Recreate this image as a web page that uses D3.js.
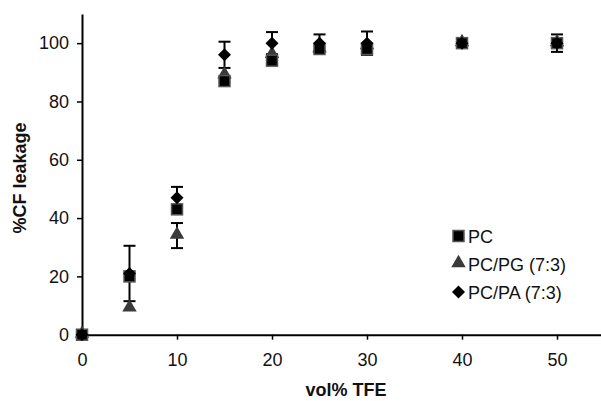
<!DOCTYPE html>
<html>
<head>
<meta charset="utf-8">
<script src="https://cdn.jsdelivr.net/npm/d3@7"></script>
<style>
    body { margin: 0; background: #fff; }
    svg { display: block; font-family: "Liberation Sans", Arial, sans-serif; }
</style>
</head>
<body>
<div id="chart"></div>
<script>
// Data
const tfe = [0, 5, 10, 15, 20, 25, 30, 40, 50];
const pc = [0, 20, 43, 87, 94, 98, 98, 100, 100];
const pcpg = [0, 9, 34, 89, 96, 98, 99, 100, 100];
const pcpa = [0, 21, 47, 96, 100, 100, 100, 100, 100];
const pcpaErr = [0, 9.5, 3.7, 4.5, 3.8, 3, 4, 0, 3];
const pcpgErr = [0, 0, 4.3, 0, 0, 0, 0, 0, 0];
const xTicks = [0, 10, 20, 30, 40, 50];
const yTicks = [0, 20, 40, 60, 80, 100];
const seriesNames = ['PC', 'PC/PG (7:3)', 'PC/PA (7:3)'];

const width = 601, height = 401;
const margin = { top: 14, right: -3.5, bottom: 66.3, left: 82 };

const svg = d3.select('#chart')
    .append('svg')
    .attr('width', width)
    .attr('height', height);

const x = d3.scaleLinear()
    .domain([0, 55])
    .range([margin.left, width - margin.right]);

const y = d3.scaleLinear()
    .domain([0, 110])
    .range([height - margin.bottom, margin.top]);

// Axes
const xAxis = svg.append('g')
    .attr('transform', `translate(0,${y(0)})`)
    .call(d3.axisBottom(x).tickValues(xTicks).tickSize(5).tickPadding(14).tickSizeOuter(0));

const yAxis = svg.append('g')
    .attr('transform', `translate(${x(0)},0)`)
    .call(d3.axisLeft(y).tickValues(yTicks).tickSize(5).tickPadding(8).tickSizeOuter(0));

[xAxis, yAxis].forEach(a => {
    a.select('.domain').attr('stroke', '#000').attr('stroke-width', 2);
    a.selectAll('.tick line').attr('stroke', '#000').attr('stroke-width', 1.5);
    a.selectAll('.tick text').attr('fill', '#111').style('font-size', '18px');
});

// Axis titles
svg.append('text')
    .attr('x', 346)
    .attr('y', 396)
    .attr('text-anchor', 'middle')
    .style('font-size', '18px')
    .style('font-weight', 'bold')
    .attr('fill', '#111')
    .text('vol% TFE');

svg.append('text')
    .attr('transform', 'translate(26,178) rotate(-90)')
    .attr('text-anchor', 'middle')
    .style('font-size', '18px')
    .style('font-weight', 'bold')
    .attr('fill', '#111')
    .text('%CF leakage');

// Error bars
function errorBars(vals, errs) {
    const pts = tfe.map((t, i) => ({ t, v: vals[i], e: errs[i] })).filter(d => d.e > 0);
    const g = svg.append('g').attr('stroke', '#000').attr('stroke-width', 2);
    g.selectAll('.stem').data(pts).enter().append('line')
        .attr('x1', d => x(d.t)).attr('x2', d => x(d.t))
        .attr('y1', d => y(d.v - d.e)).attr('y2', d => y(d.v + d.e));
    g.selectAll('.capTop').data(pts).enter().append('line')
        .attr('x1', d => x(d.t) - 6).attr('x2', d => x(d.t) + 6)
        .attr('y1', d => y(d.v + d.e)).attr('y2', d => y(d.v + d.e));
    g.selectAll('.capBot').data(pts).enter().append('line')
        .attr('x1', d => x(d.t) - 6).attr('x2', d => x(d.t) + 6)
        .attr('y1', d => y(d.v - d.e)).attr('y2', d => y(d.v - d.e));
}

errorBars(pcpg, pcpgErr);
errorBars(pcpa, pcpaErr);

// Markers
const triangle = d3.symbol().type(d3.symbolTriangle).size(90);
const diamond = 'M0,-6.5L6.5,0L0,6.5L-6.5,0Z';

svg.append('g').selectAll('path')
    .data(tfe.map((t, i) => ({ t, v: pcpg[i] })))
    .enter().append('path')
    .attr('d', triangle)
    .attr('transform', d => `translate(${x(d.t)},${y(d.v) - 1})`)
    .attr('fill', '#3a3a3a');

svg.append('g').selectAll('rect')
    .data(tfe.map((t, i) => ({ t, v: pc[i] })))
    .enter().append('rect')
    .attr('x', d => x(d.t) - 5.5)
    .attr('y', d => y(d.v) - 5.5)
    .attr('width', 11)
    .attr('height', 11)
    .attr('fill', '#000')
    .attr('stroke', '#555')
    .attr('stroke-width', 1.5);

svg.append('g').selectAll('path')
    .data(tfe.map((t, i) => ({ t, v: pcpa[i] })))
    .enter().append('path')
    .attr('d', diamond)
    .attr('transform', d => `translate(${x(d.t)},${y(d.v)})`)
    .attr('fill', '#000');

// Legend
const legend = svg.append('g');
const rows = [236, 264, 292];
legend.append('rect')
    .attr('x', 453).attr('y', rows[0] - 5.5)
    .attr('width', 11).attr('height', 11)
    .attr('fill', '#000').attr('stroke', '#555').attr('stroke-width', 1.5);
legend.append('path')
    .attr('d', triangle)
    .attr('transform', `translate(458.5,${rows[1] - 1})`)
    .attr('fill', '#3a3a3a');
legend.append('path')
    .attr('d', diamond)
    .attr('transform', `translate(458.5,${rows[2]})`)
    .attr('fill', '#000');
legend.selectAll('text')
    .data(seriesNames)
    .enter().append('text')
    .attr('x', 468)
    .attr('y', (d, i) => rows[i] + 6.5)
    .style('font-size', '18px')
    .attr('fill', '#111')
    .text(d => d);
</script>
</body>
</html>
